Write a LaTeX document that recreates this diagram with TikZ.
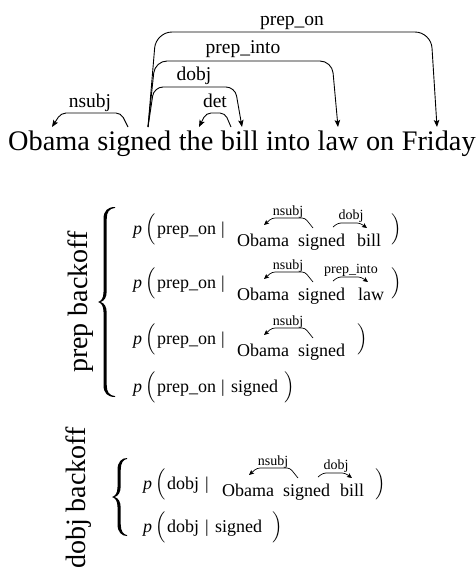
\documentclass[tikz,border=0pt]{standalone}
\usepackage{exscale}
\usepackage{fontspec}
\setmainfont{Liberation Serif}
\usetikzlibrary{arrows.meta}
\newcommand{\lpar}{$\left(\vcenter to 30pt{}\right.$}
\newcommand{\rpar}{$\left.\vcenter to 30pt{}\right)$}
% #1 stem left x, #2 top y, #3 bottom y, #4 end reach
\newcommand{\texbrace}[4]{%
  \pgfmathsetmacro\bxl{#1}\pgfmathsetmacro\bxr{#1+3.2}%
  \pgfmathsetmacro\bxe{#1+#4}\pgfmathsetmacro\bxp{#1-5.5}%
  \pgfmathsetmacro\byt{#2}\pgfmathsetmacro\byb{#3}\pgfmathsetmacro\bym{(#2+#3)/2}%
  \fill (\bxe,\byt) .. controls (\bxl+4,\byt) and (\bxl,\byt+4) .. (\bxl,\byt+12)
    -- (\bxl,\bym-10) .. controls (\bxl,\bym-4) and (\bxl-2,\bym-1) .. (\bxp,\bym)
    .. controls (\bxl-2,\bym+1) and (\bxl,\bym+4) .. (\bxl,\bym+10)
    -- (\bxl,\byb-12) .. controls (\bxl,\byb-4) and (\bxl+4,\byb) .. (\bxe,\byb)
    -- (\bxe,\byb-0.9) .. controls (\bxr+2.5,\byb-1.5) and (\bxr,\byb-5) .. (\bxr,\byb-12)
    -- (\bxr,\bym+11) .. controls (\bxr,\bym+5) and (\bxr-2,\bym+1.5) .. (\bxp+2.8,\bym)
    .. controls (\bxr-2,\bym-1.5) and (\bxr,\bym-5) .. (\bxr,\bym-11)
    -- (\bxr,\byt+12) .. controls (\bxr,\byt+5) and (\bxr+2.5,\byt+1.5) .. (\bxe,\byt+0.9)
    -- cycle;}
\begin{document}
\begin{tikzpicture}[x=1pt,y=-1pt,
  big/.style={font=\fontsize{28.3}{34}\selectfont, inner sep=0pt, anchor=base west},
  toplab/.style={font=\fontsize{19.5}{23}\selectfont, inner sep=0pt, anchor=base},
  rowtxt/.style={font=\fontsize{18}{22}\selectfont, inner sep=0pt, anchor=base west},
  smlab/.style={font=\fontsize{14}{16}\selectfont, inner sep=0pt, anchor=base},
  side/.style={font=\fontsize{28}{34}\selectfont, inner sep=0pt, rotate=90, anchor=center},
  deparc/.style={-{Stealth[length=7pt,width=5.5pt,inset=1.5pt]}, line width=0.9pt},
  sarc/.style={-{Stealth[length=5pt,width=4.5pt,inset=1pt]}, line width=0.7pt, rounded corners=3pt}
]
\useasboundingbox (0,0) rectangle (476,571);

% ---------- top sentence ----------
\node[big] (w1) at (8,150) {Obama};
\node[big] (w2) at ([xshift=7.1pt]w1.base east) {signed};
\node[big] (w3) at ([xshift=7.1pt]w2.base east) {the};
\node[big] (w4) at ([xshift=7.1pt]w3.base east) {bill};
\node[big] (w5) at ([xshift=7.1pt]w4.base east) {into};
\node[big] (w6) at ([xshift=7.1pt]w5.base east) {law};
\node[big] (w7) at ([xshift=7.1pt]w6.base east) {on};
\node[big] (w8) at ([xshift=7.1pt]w7.base east) {Friday};

\coordinate (nsS) at (128,127); \coordinate (nsE) at (52,127);
\coordinate (deS) at (231,127); \coordinate (deE) at (199,127);
\coordinate (gov) at (148,127);
\coordinate (doE) at (242,127);
\coordinate (piE) at (338,127);
\coordinate (poE) at (437,127);

\draw[deparc, rounded corners=5pt] (nsS) -- (121,113) -- (61,113) -- (nsE);
\draw[deparc, rounded corners=5pt] (deS) -- (225,113) -- (206,113) -- (deE);
\draw[deparc, rounded corners=9pt] (gov) -- (154,87) -- (235,87) -- (doE);
\draw[deparc, rounded corners=12pt] (gov) -- (155,61) -- (332,61) -- (piE);
\draw[deparc, rounded corners=16pt] (gov) -- (156,32) -- (431,32) -- (poE);

\node[toplab] (lns) at (90,107) {nsubj};
\node[toplab] (lde) at (215,107) {det};
\node[toplab] (ldo) at (194,80) {dobj};
\node[toplab] (lpi) at (243,53) {prep\_into};
\node[toplab] (lpo) at (292,25) {prep\_on};

% ---------- prep backoff ----------
\node[side] (sp) at (81,302) {prep backoff};
\texbrace{103.5}{207}{397}{11.5}

% row 1
\node[rowtxt] (p1) at (133,234) {\textit{p}};
\node[rowtxt] (l1) at (145,234) {\lpar};
\node[rowtxt] (e1) at (157,234) {prep\_on};
\node[rowtxt] (m1) at (221,234) {|};
\begin{scope}[shift={(237,246)}]
  \node[rowtxt] (a1o) at (0,0) {Obama};
  \node[rowtxt] (a1s) at (61,0) {signed};
  \node[rowtxt] (a1b) at (120,0) {bill};
  \coordinate (a1n1) at (76,-18); \coordinate (a1n2) at (27,-21);
  \coordinate (a1d1) at (96,-19); \coordinate (a1d2) at (130,-18);
  \draw[sarc] (a1n1) -- (68,-28) -- (35,-28) -- (a1n2);
  \draw[sarc] (a1d1) -- (101,-23) -- (123,-23) -- (a1d2);
  \node[smlab] (a1ln) at (51,-31) {nsubj};
  \node[smlab] (a1ld) at (114,-27) {dobj};
\end{scope}
\node[rowtxt] (r1) at (390,234) {\rpar};

% row 2
\node[rowtxt] (p2) at (133,288) {\textit{p}};
\node[rowtxt] (l2) at (145,288) {\lpar};
\node[rowtxt] (e2) at (157,288) {prep\_on};
\node[rowtxt] (m2) at (221,288) {|};
\begin{scope}[shift={(237,300)}]
  \node[rowtxt] (a2o) at (0,0) {Obama};
  \node[rowtxt] (a2s) at (61,0) {signed};
  \node[rowtxt] (a2b) at (121,0) {law};
  \coordinate (a2n1) at (76,-18); \coordinate (a2n2) at (27,-21);
  \coordinate (a2d1) at (96,-19); \coordinate (a2d2) at (131,-18);
  \draw[sarc] (a2n1) -- (68,-28) -- (35,-28) -- (a2n2);
  \draw[sarc] (a2d1) -- (101,-23) -- (124,-23) -- (a2d2);
  \node[smlab] (a2ln) at (51,-31) {nsubj};
  \node[smlab] (a2ld) at (114,-27) {prep\_into};
\end{scope}
\node[rowtxt] (r2) at (390,288) {\rpar};

% row 3
\node[rowtxt] (p3) at (133,344) {\textit{p}};
\node[rowtxt] (l3) at (145,344) {\lpar};
\node[rowtxt] (e3) at (157,344) {prep\_on};
\node[rowtxt] (m3) at (221,344) {|};
\begin{scope}[shift={(237,356)}]
  \node[rowtxt] (a3o) at (0,0) {Obama};
  \node[rowtxt] (a3s) at (61,0) {signed};
  \coordinate (a3n1) at (76,-18); \coordinate (a3n2) at (27,-21);
  \draw[sarc] (a3n1) -- (68,-28) -- (35,-28) -- (a3n2);
  \node[smlab] (a3ln) at (51,-31) {nsubj};
\end{scope}
\node[rowtxt] (r3) at (356,344) {\rpar};

% row 4
\node[rowtxt] (p4) at (133,392) {\textit{p}};
\node[rowtxt] (l4) at (145,392) {\lpar};
\node[rowtxt] (e4) at (157,392) {prep\_on};
\node[rowtxt] (m4) at (221,392) {|};
\node[rowtxt] (s4) at (231,392) {signed};
\node[rowtxt] (r4) at (283,392) {\rpar};

% ---------- dobj backoff ----------
\node[side] (sd) at (79,498) {dobj backoff};
\texbrace{117.5}{458}{536}{9.5}

% row 1
\node[rowtxt] (p5) at (143,489) {\textit{p}};
\node[rowtxt] (l5) at (155,489) {\lpar};
\node[rowtxt] (e5) at (167,489) {dobj};
\node[rowtxt] (m5) at (205,489) {|};
\begin{scope}[shift={(222,496)}]
  \node[rowtxt] (a5o) at (0,0) {Obama};
  \node[rowtxt] (a5s) at (61,0) {signed};
  \node[rowtxt] (a5b) at (118,0) {bill};
  \coordinate (a5n1) at (76,-18); \coordinate (a5n2) at (27,-21);
  \coordinate (a5d1) at (96,-19); \coordinate (a5d2) at (130,-18);
  \draw[sarc] (a5n1) -- (68,-28) -- (35,-28) -- (a5n2);
  \draw[sarc] (a5d1) -- (101,-23) -- (123,-23) -- (a5d2);
  \node[smlab] (a5ln) at (51,-31) {nsubj};
  \node[smlab] (a5ld) at (114,-27) {dobj};
\end{scope}
\node[rowtxt] (r5) at (374,489) {\rpar};

% row 2
\node[rowtxt] (p6) at (143,532) {\textit{p}};
\node[rowtxt] (l6) at (155,532) {\lpar};
\node[rowtxt] (e6) at (167,532) {dobj};
\node[rowtxt] (m6) at (205,532) {|};
\node[rowtxt] (s6) at (215,532) {signed};
\node[rowtxt] (r6) at (271,532) {\rpar};
\end{tikzpicture}
\end{document}
